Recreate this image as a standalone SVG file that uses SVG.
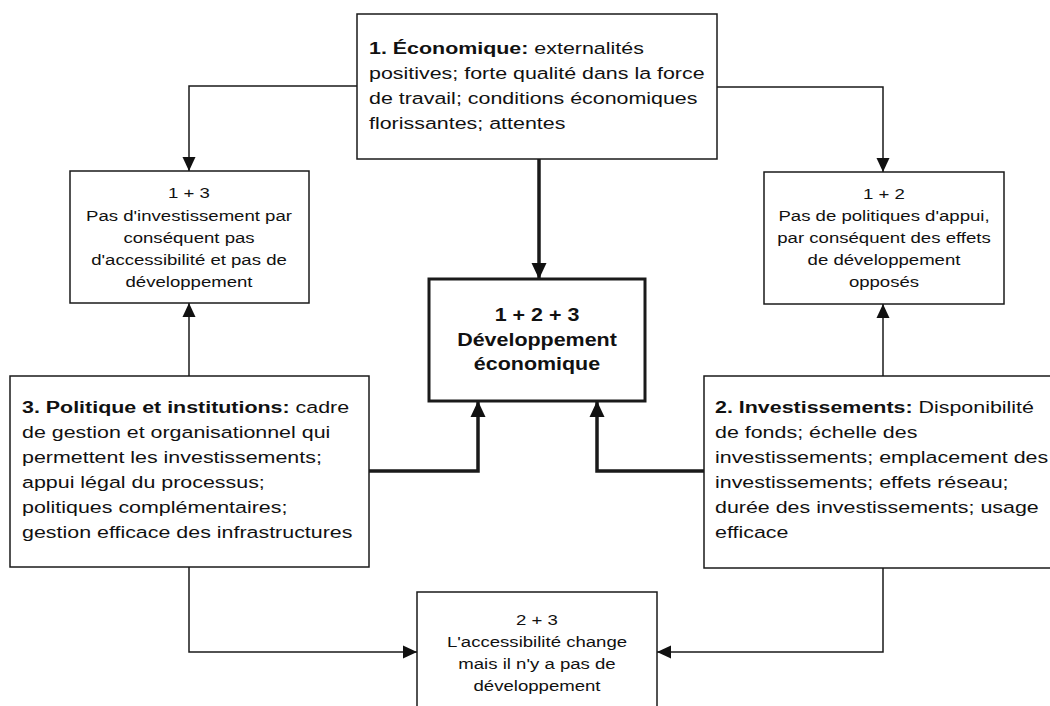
<svg xmlns="http://www.w3.org/2000/svg" width="1050" height="706" viewBox="0 0 1050 706">
<style>
.box{fill:#fff;stroke:#1a1a1a;stroke-width:1.5}
.boxc{fill:#fff;stroke:#1a1a1a;stroke-width:3}
text{font-family:"Liberation Sans",Arial,sans-serif;fill:#111}
.big text{font-size:17px}
.sm text{font-size:15px;text-anchor:middle}
.ctr text{font-size:18.5px;font-weight:bold;text-anchor:middle}
.b{font-weight:bold}
.thin{fill:none;stroke:#1a1a1a;stroke-width:1.5}
.thick{fill:none;stroke:#1a1a1a;stroke-width:3.5}
</style>
<defs>
<marker id="ah" markerWidth="14" markerHeight="14" viewBox="0 0 14 14" refX="14" refY="7" orient="auto" markerUnits="userSpaceOnUse">
<path d="M0,0.5 L14,7 L0,13.5 Z" fill="#111"/>
</marker>
<marker id="ahb" markerWidth="16" markerHeight="16" viewBox="0 0 16 16" refX="16" refY="8" orient="auto" markerUnits="userSpaceOnUse">
<path d="M0,0.5 L16,8 L0,15.5 Z" fill="#111"/>
</marker>
</defs>
<rect width="1050" height="706" fill="#fff"/>
<g id="connectors">
<path class="thin" d="M357,86 H189 V171" marker-end="url(#ah)"/>
<path class="thin" d="M717,87 H883 V172" marker-end="url(#ah)"/>
<path class="thick" d="M539,159 V279" marker-end="url(#ahb)"/>
<path class="thin" d="M189,376 V303" marker-end="url(#ah)"/>
<path class="thin" d="M883,376 V304" marker-end="url(#ah)"/>
<path class="thick" d="M369,471 H478 V401" marker-end="url(#ahb)"/>
<path class="thick" d="M704,471 H597 V401" marker-end="url(#ahb)"/>
<path class="thin" d="M189,567 V652 H417" marker-end="url(#ah)"/>
<path class="thin" d="M883,568 V652 H657" marker-end="url(#ah)"/>
</g>
<g id="n1">
<rect class="box" x="357" y="14" width="360" height="145"/>
<g class="big" transform="translate(369,0) scale(1.26,1)">
<text x="0" y="54"><tspan class="b">1. Économique:</tspan> externalités</text>
<text x="0" y="79">positives; forte qualité dans la force</text>
<text x="0" y="104">de travail; conditions économiques</text>
<text x="0" y="129">florissantes; attentes</text>
</g>
</g>
<g id="n13">
<rect class="box" x="70" y="171" width="239" height="132"/>
<g class="sm" transform="translate(189,0) scale(1.24,1)">
<text x="0" y="198">1 + 3</text>
<text x="0" y="221">Pas d'investissement par</text>
<text x="0" y="243">conséquent pas</text>
<text x="0" y="265">d'accessibilité et pas de</text>
<text x="0" y="287">développement</text>
</g>
</g>
<g id="n12">
<rect class="box" x="764" y="172" width="240" height="132"/>
<g class="sm" transform="translate(884,0) scale(1.24,1)">
<text x="0" y="199">1 + 2</text>
<text x="0" y="221">Pas de politiques d'appui,</text>
<text x="0" y="243">par conséquent des effets</text>
<text x="0" y="265">de développement</text>
<text x="0" y="287">opposés</text>
</g>
</g>
<g id="n123">
<rect class="boxc" x="429" y="279" width="216" height="122"/>
<g class="ctr" transform="translate(537,0) scale(1.16,1)">
<text x="0" y="321">1 + 2 + 3</text>
<text x="0" y="346">Développement</text>
<text x="0" y="370">économique</text>
</g>
</g>
<g id="n3">
<rect class="box" x="10" y="376" width="359" height="191"/>
<g class="big" transform="translate(22,0) scale(1.26,1)">
<text x="0" y="413"><tspan class="b">3. Politique et institutions:</tspan> cadre</text>
<text x="0" y="438">de gestion et organisationnel qui</text>
<text x="0" y="463">permettent les investissements;</text>
<text x="0" y="488">appui légal du processus;</text>
<text x="0" y="513">politiques complémentaires;</text>
<text x="0" y="538">gestion efficace des infrastructures</text>
</g>
</g>
<g id="n2">
<rect class="box" x="704" y="376" width="360" height="192"/>
<g class="big" transform="translate(715,0) scale(1.26,1)">
<text x="0" y="413"><tspan class="b">2. Investissements:</tspan> Disponibilité</text>
<text x="0" y="438">de fonds; échelle des</text>
<text x="0" y="463">investissements; emplacement des</text>
<text x="0" y="488">investissements; effets réseau;</text>
<text x="0" y="513">durée des investissements; usage</text>
<text x="0" y="538">efficace</text>
</g>
</g>
<g id="n23">
<rect class="box" x="417" y="592" width="240" height="130"/>
<g class="sm" transform="translate(537,0) scale(1.24,1)">
<text x="0" y="625">2 + 3</text>
<text x="0" y="647">L'accessibilité change</text>
<text x="0" y="669">mais il n'y a pas de</text>
<text x="0" y="691">développement</text>
</g>
</g>
</svg>
